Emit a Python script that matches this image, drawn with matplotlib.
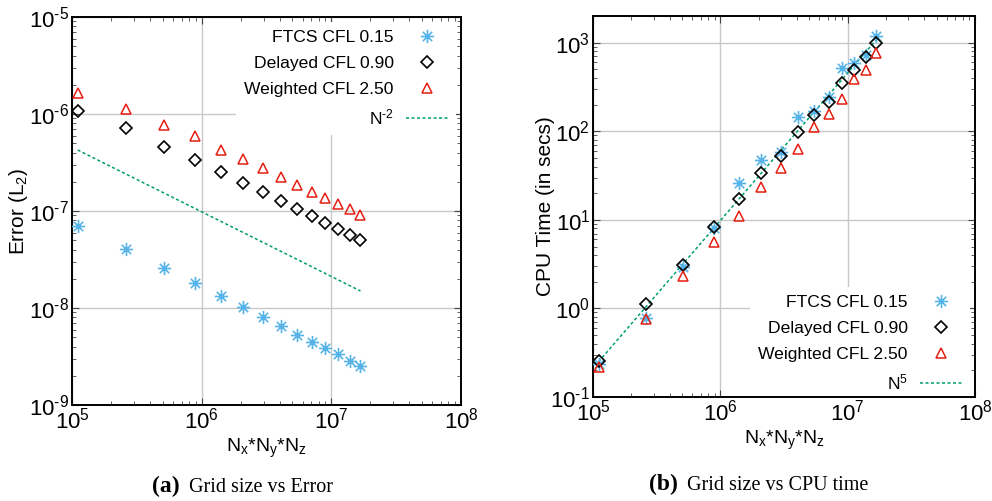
import matplotlib
matplotlib.use("Agg")
import matplotlib.pyplot as plt
import numpy as np
from matplotlib.path import Path
from matplotlib.ticker import FuncFormatter

plt.rcParams['font.family'] = ['Liberation Sans', 'DejaVu Sans']
plt.rcParams['mathtext.fontset'] = 'custom'
plt.rcParams['mathtext.rm'] = 'Liberation Sans'
plt.rcParams['mathtext.it'] = 'Liberation Sans'
plt.rcParams['mathtext.bf'] = 'Liberation Sans:bold'

# grid points per direction, total size is N^3
grid_n = [48, 64, 80, 96, 112, 128, 144, 160, 176, 192, 208, 224, 240, 256]

# L2 error
err_ftcs = [7.05e-8, 4.06e-8, 2.60e-8, 1.80e-8, 1.33e-8, 1.02e-8, 8.0e-9,
            6.52e-9, 5.31e-9, 4.46e-9, 3.90e-9, 3.33e-9, 2.86e-9, 2.52e-9]
err_delayed = [1.08e-6, 7.13e-7, 4.60e-7, 3.36e-7, 2.52e-7, 1.96e-7, 1.56e-7,
               1.26e-7, 1.04e-7, 8.87e-8, 7.57e-8, 6.56e-8, 5.70e-8, 5.02e-8]
err_weighted = [1.63e-6, 1.12e-6, 7.65e-7, 5.98e-7, 4.25e-7, 3.41e-7, 2.75e-7,
                2.26e-7, 1.85e-7, 1.58e-7, 1.37e-7, 1.18e-7, 1.04e-7, 9.1e-8]

# CPU time in seconds
cpu_ftcs = [0.238, 0.77, 2.94, 8.1, 25.8, 48.0, 58.6,
            146, 169, 245, 523, 585, 727, 1190]
cpu_delayed = [0.253, 1.11, 3.13, 8.27, 17.0, 33.7, 52.9,
               98.6, 152, 215, 348, 495, 684, 985]
cpu_weighted = [0.218, 0.755, 2.33, 5.65, 11.0, 23.2, 38.1,
                62.4, 112, 155, 229, 385, 492, 759]

series_labels = ["FTCS CFL 0.15", "Delayed CFL 0.90", "Weighted CFL 2.50"]

# reference slopes, anchored at the smallest grid
err_ref0 = 4.26e-7
cpu_ref0 = 0.25

n = np.array(grid_n, dtype=float)
size = n ** 3

c_blue = '#56b4e9'
c_red = '#e51e10'
c_green = '#009e73'

# gnuplot style asterisk (plus + cross)
d = 0.707
star = Path([(-1, 0), (1, 0), (0, -1), (0, 1), (-d, -d), (d, d), (-d, d), (d, -d)],
            [Path.MOVETO, Path.LINETO] * 4)


def pow10(v, pos):
    e = int(round(np.log10(v)))
    return r'$\mathdefault{10^{\text{%d}}}$' % e


def draw(ax, ys, ref, ref_label, ylim, legend_loc, anchor):
    ax.plot(size, ys[0], ls='none', marker=star, ms=9.5, mfc='none', mec=c_blue,
            mew=1.2, label=series_labels[0], zorder=3)
    ax.plot(size, ys[1], ls='none', marker='D', ms=6.3, mfc='none', mec='black',
            mew=1.2, label=series_labels[1], zorder=3)
    ax.plot(size, ys[2], ls='none', marker='^', ms=7.5, mfc='none', mec=c_red,
            mew=1.1, label=series_labels[2], zorder=3)
    ax.plot(size, ref, color=c_green, lw=1.1, ls=(0, (2, 1.6)), label=ref_label,
            zorder=2)

    ax.set_xscale('log')
    ax.set_yscale('log')
    ax.set_xlim(1e5, 1e8)
    ax.set_ylim(*ylim)
    ax.xaxis.set_major_formatter(FuncFormatter(pow10))
    ax.yaxis.set_major_formatter(FuncFormatter(pow10))
    ax.grid(True, which='major', color='#c8c8c8', lw=1.0)
    ax.set_axisbelow(True)
    ax.tick_params(which='both', direction='in', top=True, right=True,
                   labelsize=16, color='#444444')
    ax.tick_params(which='major', length=5, pad=2)
    ax.tick_params(which='minor', length=3)
    for s in ax.spines.values():
        s.set_linewidth(1.4)
    ax.set_xlabel(r'N$_\mathrm{x}$*N$_\mathrm{y}$*N$_\mathrm{z}$', fontsize=14,
                  labelpad=2)

    leg = ax.legend(loc=legend_loc, bbox_to_anchor=anchor, fontsize=12.6,
                    markerfirst=False, frameon=True, fancybox=False,
                    edgecolor='none', facecolor='white', framealpha=1,
                    handlelength=2.4, handletextpad=0.7, labelspacing=0.6,
                    borderpad=0.45, borderaxespad=0.3)
    # keep the key box under the frame lines but over the grid
    leg.set_zorder(2.4)
    return leg


fig = plt.figure(figsize=(9.92, 5.01), dpi=100)
ax1 = fig.add_axes([0.0726, 0.1916, 0.3921, 0.7744])
ax2 = fig.add_axes([0.5978, 0.2076, 0.3851, 0.7604])

draw(ax1, [err_ftcs, err_delayed, err_weighted], err_ref0 * (n / n[0]) ** -2,
     r'N$^{\text{-2}}$', (1e-9, 1e-5), 'upper right', (1.0, 1.0))
ax1.set_ylabel(r'Error (L$_2$)', fontsize=15, labelpad=-1)

draw(ax2, [cpu_ftcs, cpu_delayed, cpu_weighted], cpu_ref0 * (n / n[0]) ** 5,
     r'N$^{5}$', (0.1, 2000), 'lower right', (1.0, -0.022))
ax2.set_ylabel('CPU Time (in secs)', fontsize=15, labelpad=-3)

# sub-figure captions
serif = ['Liberation Serif', 'DejaVu Serif']
fig.text(180 / 992, 0.018, '(a)', family=serif, fontweight='bold', fontsize=17,
         ha='right', va='baseline')
fig.text(189 / 992, 0.018, 'Grid size vs Error', family=serif, fontsize=14.5,
         ha='left', va='baseline')
fig.text(678 / 992, 0.021, '(b)', family=serif, fontweight='bold', fontsize=17,
         ha='right', va='baseline')
fig.text(687 / 992, 0.021, 'Grid size vs CPU time', family=serif, fontsize=14.5,
         ha='left', va='baseline')

fig.savefig('out.png', dpi=100)
